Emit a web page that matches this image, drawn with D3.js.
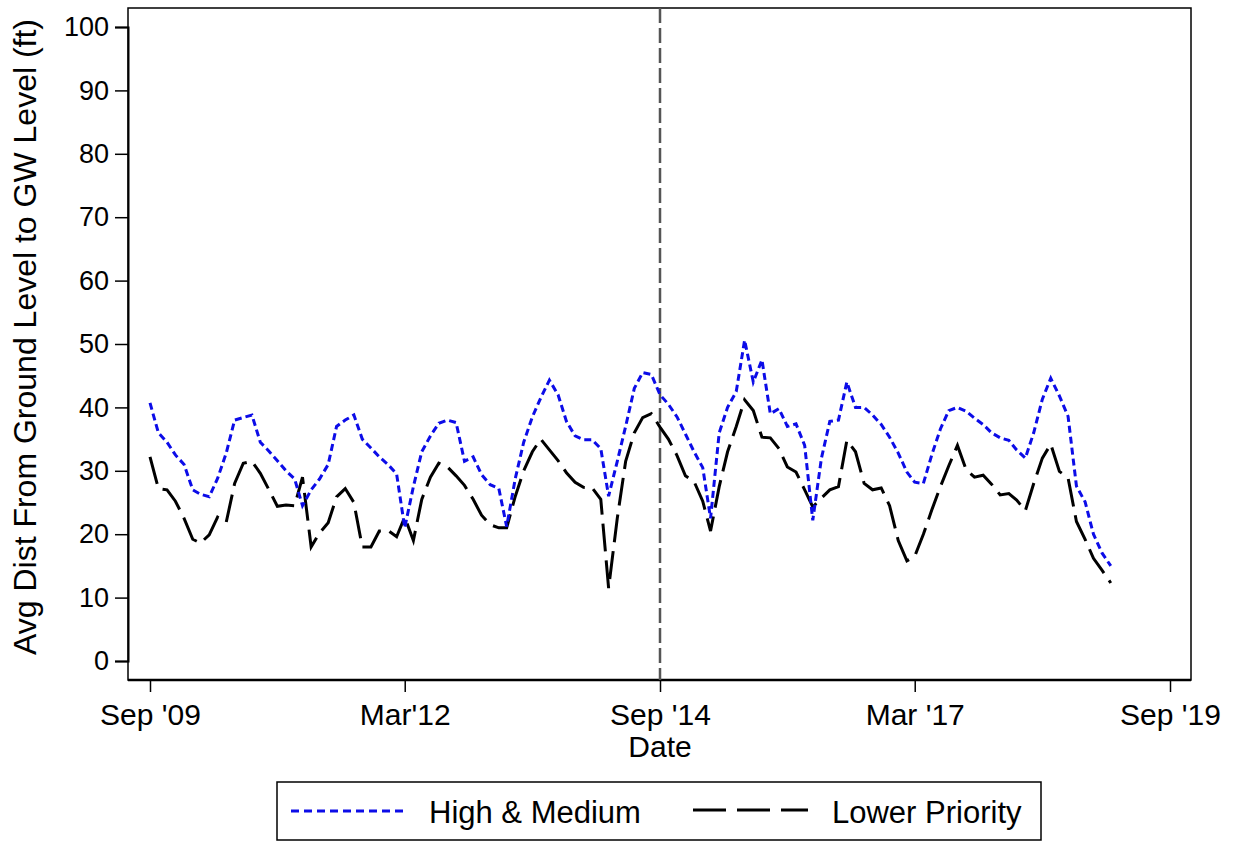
<!DOCTYPE html>
<html>
<head>
<meta charset="utf-8">
<script src="https://cdn.jsdelivr.net/npm/d3@7"></script>
<style>
  html, body { margin: 0; padding: 0; background: #fff; }
  svg { display: block; font-family: "Liberation Sans", Arial, sans-serif; }
</style>
</head>
<body>
<script>
// monthly series, Sep 2009 .. Feb 2019
const firstMonth = new Date(2009, 8, 1)
const highMedium = [
  40.7, 36, 34.5, 32.5, 31, 27, 26.3, 25.9, 28.8, 32.8, 38, 38.4, 38.8, 34.5, 33.1, 31.6,
  30, 28.7, 24.5, 27, 28.7, 31, 37, 38, 38.8, 35, 33.6, 32.2, 31, 29.5, 21, 27.5,
  33, 35.5, 37.5, 38, 37.6, 31.5, 32.2, 29.4, 27.8, 27.2, 21.2, 28.8, 34.5, 38.5, 41.5, 44.3,
  42, 37.8, 35.5, 34.9, 34.9, 33.5, 26, 31.5, 37, 43, 45.5, 45.2, 42, 40.5, 38.5, 35.8,
  33, 30.5, 22.5, 36, 40, 42.5, 50.6, 44, 47.5, 39, 39.8, 37, 37.4, 34, 22.2, 32,
  37.8, 38, 44, 40, 40, 38.8, 37.3, 35.3, 32.8, 29.8, 28.2, 28, 32.5, 36.6, 39.5, 40,
  39.4, 38.3, 37.3, 36, 35.2, 34.8, 33.3, 32, 36, 41.3, 44.6, 41.8, 38.6, 27.6, 25.1, 20,
  17, 15
]
const lowerPriority = [
  32.2, 27.2, 27, 25.2, 22.5, 19.2, 18.6, 19.9, 22.7, 21.9, 28, 31.2, 31.5, 29.6, 27, 24.4,
  24.6, 24.5, 29, 18, 20.2, 21.8, 25.9, 27.2, 25, 18, 18, 20.5, 20.6, 19.6, 22.7, 19,
  25.5, 29, 31.2, 30.6, 29.2, 27.7, 25.5, 23, 21.5, 21, 21, 26, 30, 33, 35, 33.3,
  31.6, 29.7, 28.2, 27.4, 27.3, 25.5, 11.5, 22.5, 31.5, 36, 38.4, 39, 36.9, 35, 32.4, 29.2,
  28.3, 25.2, 20.5, 27.5, 33, 37, 41.2, 39.5, 35.3, 35.2, 33.5, 30.6, 29.8, 27, 24.3, 25.7,
  27, 27.5, 34.8, 33, 28, 27, 27.3, 24.5, 19, 15.8, 16.5, 20, 23.8, 27.5, 30.8, 34,
  30.2, 29, 29.3, 27.9, 26.2, 26.4, 25.4, 23.7, 28, 32, 34.2, 29.9, 28.9, 22, 19.2, 16.2,
  14.3, 12.3
]
const seriesNames = ['High & Medium', 'Lower Priority']
const yTicks = [0, 10, 20, 30, 40, 50, 60, 70, 80, 90, 100]
const xTickDates = [new Date(2009, 8, 1), new Date(2012, 2, 1), new Date(2014, 8, 1), new Date(2017, 2, 1), new Date(2019, 8, 1)]
const xTickLabels = ["Sep '09", "Mar'12", "Sep '14", "Mar '17", "Sep '19"]
const markerDate = new Date(2014, 8, 1)

const width = 1233
const height = 841
const frame = { left: 128, right: 1191, top: 8, bottom: 680 }

const months = d3.timeMonth.range(firstMonth, d3.timeMonth.offset(firstMonth, highMedium.length))

const x = d3.scaleTime()
  .domain([new Date(2009, 8, 1), new Date(2019, 8, 1)])
  .range([150, 1170])

const y = d3.scaleLinear()
  .domain([0, 100])
  .range([661, 27])

const svg = d3.select('body').append('svg')
  .attr('width', width)
  .attr('height', height)

// frame
svg.append('rect')
  .attr('x', frame.left)
  .attr('y', frame.top)
  .attr('width', frame.right - frame.left)
  .attr('height', frame.bottom - frame.top)
  .attr('fill', 'none')
  .attr('stroke', '#000')
  .attr('stroke-width', 1.5)

// y axis
const yAxis = svg.append('g')
  .attr('transform', `translate(${frame.left},0)`)
  .call(d3.axisLeft(y).tickValues(yTicks).tickSize(13).tickPadding(6))
yAxis.select('.domain').attr('stroke-width', 2)
yAxis.selectAll('.tick line').attr('stroke-width', 1.5)
yAxis.selectAll('text')
  .attr('font-size', 27)
  .attr('fill', '#000')
  .attr('font-family', '"Liberation Sans", Arial, sans-serif')

// x axis
const xAxis = svg.append('g')
  .attr('transform', `translate(0,${frame.bottom})`)
  .call(d3.axisBottom(x).tickValues(xTickDates).tickFormat((d, i) => xTickLabels[i]).tickSize(12).tickPadding(12))
xAxis.select('.domain').attr('d', `M${frame.left},0H${frame.right}`).attr('stroke-width', 2.5)
xAxis.selectAll('.tick line').attr('stroke-width', 1.5)
xAxis.selectAll('text')
  .attr('font-size', 30)
  .attr('fill', '#000')
  .attr('font-family', '"Liberation Sans", Arial, sans-serif')

// axis titles
svg.append('text')
  .attr('x', x(markerDate))
  .attr('y', 757)
  .attr('text-anchor', 'middle')
  .attr('font-size', 30)
  .text('Date')

svg.append('text')
  .attr('transform', 'translate(36,337) rotate(-90)')
  .attr('text-anchor', 'middle')
  .attr('font-size', 32)
  .text('Avg Dist From Ground Level to GW Level (ft)')

// Sep '14 marker
svg.append('line')
  .attr('x1', x(markerDate))
  .attr('x2', x(markerDate))
  .attr('y1', frame.top)
  .attr('y2', frame.bottom)
  .attr('stroke', '#555')
  .attr('stroke-width', 2.5)
  .attr('stroke-dasharray', '15,5')

// lines
const line = d3.line()
  .x((d, i) => x(months[i]))
  .y(d => y(d))

svg.append('path')
  .datum(lowerPriority)
  .attr('d', line)
  .attr('fill', 'none')
  .attr('stroke', '#000')
  .attr('stroke-width', 3)
  .attr('stroke-dasharray', '28,9')

svg.append('path')
  .datum(highMedium)
  .attr('d', line)
  .attr('fill', 'none')
  .attr('stroke', '#0c0ce8')
  .attr('stroke-width', 3)
  .attr('stroke-dasharray', '7,4')

// legend
const legend = svg.append('g')
legend.append('rect')
  .attr('x', 277)
  .attr('y', 782)
  .attr('width', 764)
  .attr('height', 58)
  .attr('fill', '#fff')
  .attr('stroke', '#000')
  .attr('stroke-width', 1.5)

legend.append('line')
  .attr('x1', 291).attr('x2', 407)
  .attr('y1', 811).attr('y2', 811)
  .attr('stroke', '#0c0ce8')
  .attr('stroke-width', 3)
  .attr('stroke-dasharray', '8,5')
legend.append('text')
  .attr('x', 429).attr('y', 823)
  .attr('font-size', 31)
  .text(seriesNames[0])

legend.append('line')
  .attr('x1', 693).attr('x2', 808)
  .attr('y1', 810).attr('y2', 810)
  .attr('stroke', '#000')
  .attr('stroke-width', 3)
  .attr('stroke-dasharray', '33,11')
legend.append('text')
  .attr('x', 832).attr('y', 823)
  .attr('font-size', 31)
  .text(seriesNames[1])
</script>
</body>
</html>
